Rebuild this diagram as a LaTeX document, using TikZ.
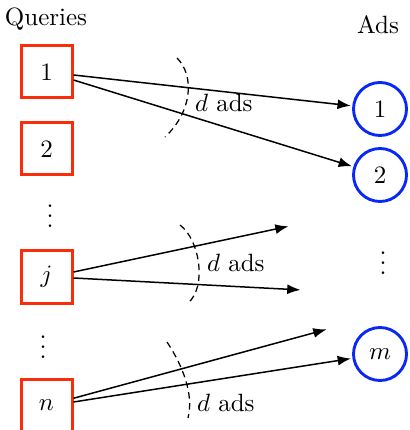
\documentclass[tikz,border=0pt]{standalone}
\usetikzlibrary{arrows.meta}
\definecolor{qred}{RGB}{250,45,10}
\definecolor{ablue}{RGB}{10,40,245}
\begin{document}
\begin{tikzpicture}[x=0.40pt,y=-0.40pt,
 qbox/.style={draw=qred,line width=1.2pt,minimum width=20.4pt,minimum height=20.8pt,inner sep=0pt},
 adnode/.style={draw=ablue,circle,line width=1.15pt,minimum size=21.2pt,inner sep=0pt},
 link/.style={-{Latex[length=5.3pt,width=4pt]},line width=0.6pt,shorten >=0.6pt},
 cut/.style={dash pattern=on 2.6pt off 1.8pt,line width=0.5pt},
 lbl/.style={anchor=west,inner sep=1pt},
]
\useasboundingbox (0,0) rectangle (409,430);
\node (hq) at (46,19) {Queries};
\node (ha) at (378,25) {Ads};
\node[qbox] (q1) at (46.5,72) {1};
\node[qbox] (q2) at (46.5,149) {2};
\node (dq1) at (50,209) {$\vdots$};
\node[qbox] (qj) at (46.5,277) {$j$};
\node (dq2) at (43,340) {$\vdots$};
\node[qbox] (qn) at (46.5,405) {$n$};
\node[adnode] (a1) at (380,109) {1};
\node[adnode] (a2) at (380,175) {2};
\node (da) at (383,256) {$\vdots$};
\node[adnode] (am) at (380,354) {$m$};
\coordinate (e1) at (290,226);
\coordinate (e2) at (302,290);
\coordinate (e3) at (328,329);
\draw[link] ([yshift=-1.2pt]q1.east) -- (a1);
\draw[link] ([yshift=-3.2pt]q1.east) -- (a2);
\draw[link] ([yshift=2pt]qj.east) -- (e1);
\draw[link] ([yshift=-0.4pt]qj.east) -- (e2);
\draw[link] ([yshift=2.7pt]qn.east) -- (e3);
\draw[link] ([yshift=1.2pt]qn.east) -- (am);
\draw[cut] (177,58) .. controls (195,76) and (192,112) .. (165,137);
\draw[cut] (180,225) .. controls (200,240) and (207,287) .. (188,303);
\draw[cut] (167,342) .. controls (183,366) and (194,395) .. (188,418);
\node[lbl] (l1) at (192,103) {$d$ ads};
\node[lbl] (l2) at (204,263) {$d$ ads};
\node[lbl] (l3) at (194,403) {$d$ ads};
\end{tikzpicture}
\end{document}
